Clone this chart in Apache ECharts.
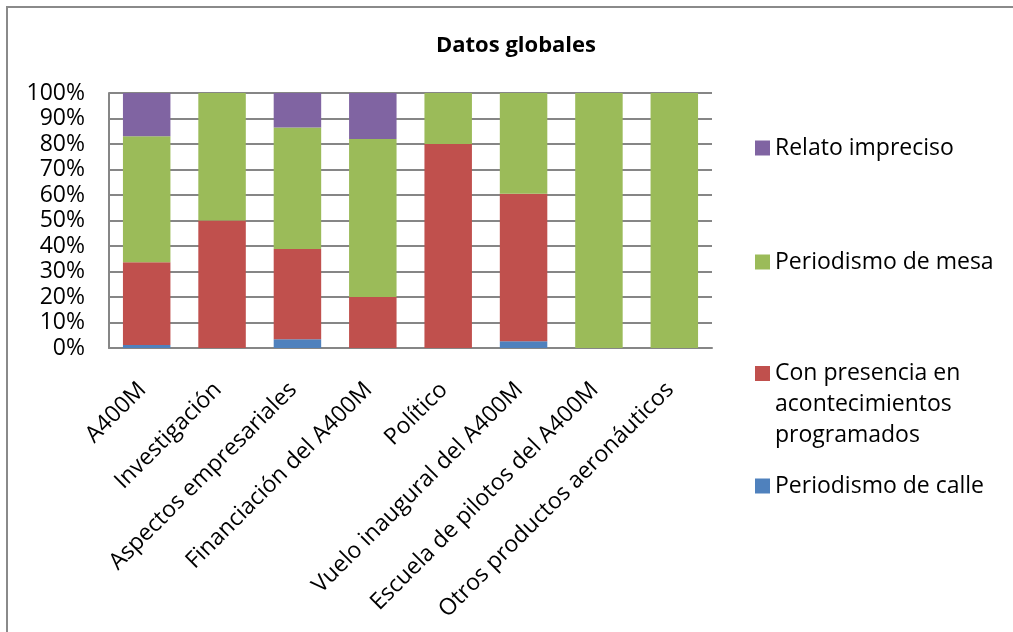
<!DOCTYPE html>
<html>
<head>
<meta charset="utf-8">
<script src="https://cdn.jsdelivr.net/npm/echarts@6/dist/echarts.min.js"></script>
<style>
  html, body { margin: 0; padding: 0; background: #ffffff; }
  #chart { width: 1013px; height: 632px; }
</style>
</head>
<body>
<div id="chart"></div>
<script>
// Categories (topics) along the x axis
const categories = [
  'A400M',
  'Investigación',
  'Aspectos empresariales',
  'Financiación del A400M',
  'Político',
  'Vuelo inaugural del A400M',
  'Escuela de pilotos del A400M',
  'Otros productos aeronáuticos'
];

// Share of each kind of coverage per topic (percent)
const periodismoCalle     = [1.2, 0, 3.4, 0, 0, 2.6, 0, 0];
const conPresencia        = [32.4, 50, 35.4, 20, 80, 57.9, 0, 0];
const periodismoMesa      = [49.4, 50, 47.7, 62, 20, 39.5, 100, 100];
const relatoImpreciso     = [17.0, 0, 13.5, 18, 0, 0, 0, 0];

const seriesNames = [
  'Periodismo de calle',
  'Con presencia en acontecimientos programados',
  'Periodismo de mesa',
  'Relato impreciso'
];
const seriesColors = ['#4F81BD', '#C0504D', '#9BBB59', '#8064A2'];
const seriesData = [periodismoCalle, conPresencia, periodismoMesa, relatoImpreciso];

const yTicks = [0, 10, 20, 30, 40, 50, 60, 70, 80, 90, 100];

const FONT = '"Open Sans", "Noto Sans", sans-serif';
const FS = 23;

const chart = echarts.init(document.getElementById('chart'), null, { renderer: 'canvas' });

function legendBox(name, top, extra) {
  return Object.assign({
    show: true,
    data: [name],
    orient: 'vertical',
    left: 755,
    top: top,
    padding: 0,
    itemWidth: 15,
    itemHeight: 15,
    itemGap: 0,
    icon: 'rect',
    selectedMode: false,
    textStyle: { fontFamily: FONT, fontSize: FS, color: '#000000', lineHeight: 24 }
  }, extra || {});
}

const option = {
  backgroundColor: '#ffffff',
  animation: false,
  title: {
    text: 'Datos globales',
    left: 511,
    top: 30,
    textAlign: 'center',
    textStyle: { fontFamily: FONT, fontSize: 22, fontWeight: 'bold', color: '#000000' }
  },
  graphic: [{
    type: 'rect',
    shape: { x: 7, y: 7, width: 1020, height: 640 },
    style: { fill: null, stroke: '#8a8a8a', lineWidth: 2 },
    silent: true,
    z: -1
  }],
  legend: [
    legendBox('Relato impreciso', 136),
    legendBox('Periodismo de mesa', 250),
    // three-line entry: two blank lines on top keep the swatch level with the first line
    legendBox('Con presencia en acontecimientos programados', 296, {
      formatter: function () { return '\n\nCon presencia en\nacontecimientos\nprogramados'; },
      textStyle: { fontFamily: FONT, fontSize: FS, color: '#000000', lineHeight: 31 }
    }),
    legendBox('Periodismo de calle', 474)
  ],
  grid: {
    left: 109,
    right: 301,
    top: 93,
    bottom: 284,
    containLabel: false
  },
  xAxis: {
    type: 'category',
    data: categories,
    axisLine: { show: true, lineStyle: { color: '#868686', width: 2 } },
    axisTick: { show: false },
    axisLabel: {
      interval: 0,
      rotate: 45,
      margin: 34,
      padding: [28, 6, 0, 0],
      fontFamily: FONT,
      fontSize: FS,
      color: '#000000'
    }
  },
  yAxis: {
    type: 'value',
    min: yTicks[0],
    max: yTicks[yTicks.length - 1],
    interval: yTicks[1] - yTicks[0],
    axisLine: { show: true, lineStyle: { color: '#868686', width: 2 } },
    axisTick: { show: false },
    splitLine: { show: true, lineStyle: { color: '#868686', width: 2 } },
    axisLabel: {
      formatter: '{value}%',
      margin: 24,
      fontFamily: FONT,
      fontSize: FS,
      color: '#000000'
    }
  },
  series: seriesNames.map(function (name, i) {
    return {
      name: name,
      type: 'bar',
      stack: 'total',
      barCategoryGap: '37%',
      data: seriesData[i],
      itemStyle: { color: seriesColors[i] },
      emphasis: { disabled: true }
    };
  })
};

chart.setOption(option);
</script>
</body>
</html>
